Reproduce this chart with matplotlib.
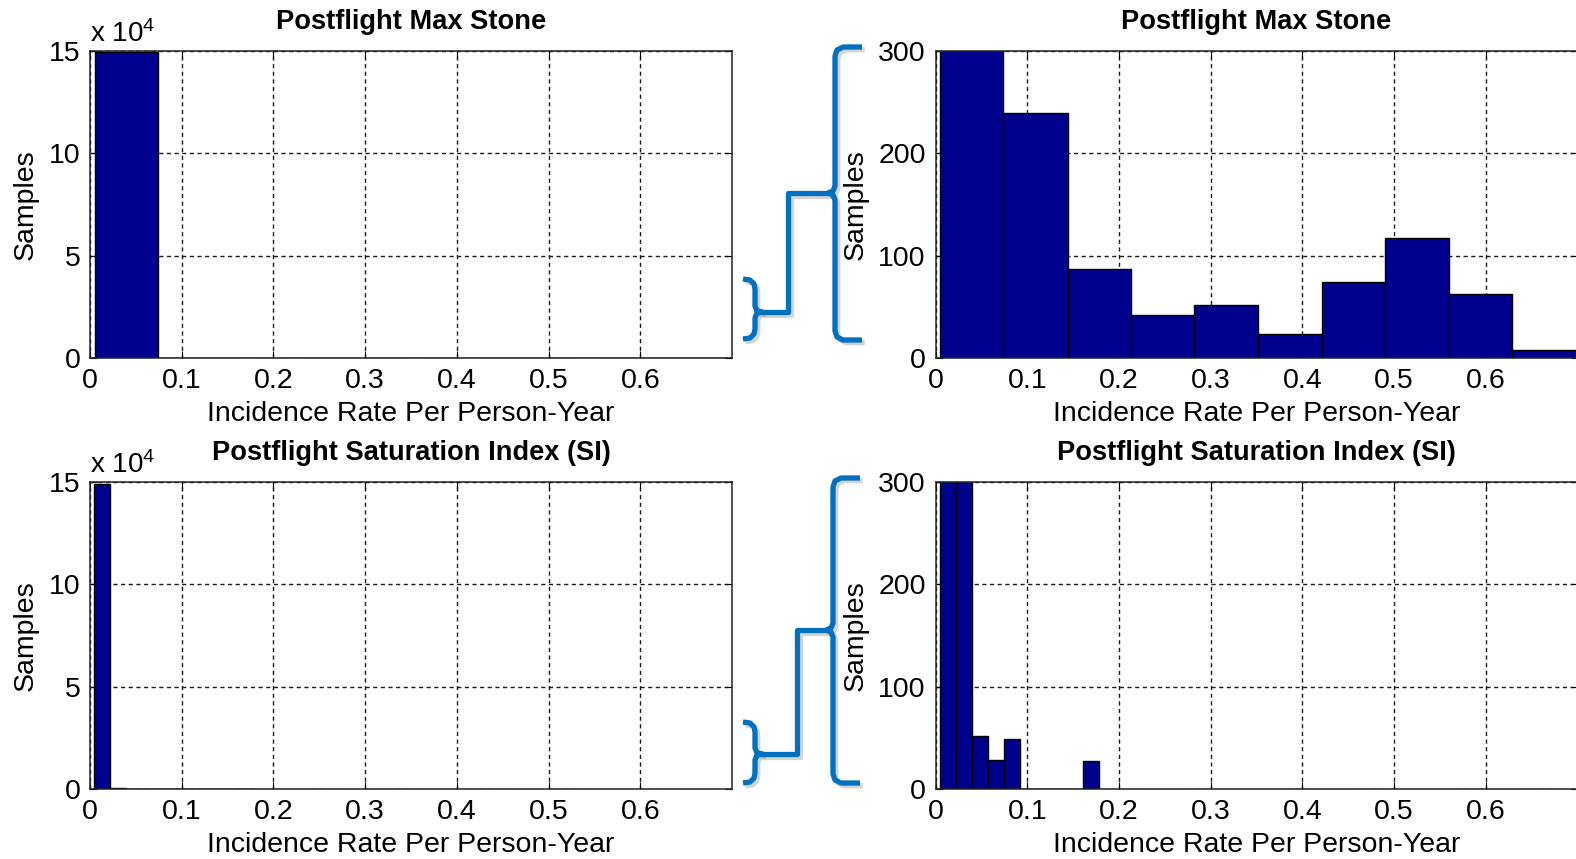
import numpy as np
import matplotlib
matplotlib.use("Agg")
import matplotlib.pyplot as plt
from matplotlib.lines import Line2D
import matplotlib.patheffects as pe

plt.rcParams['font.family'] = ['Liberation Sans', 'DejaVu Sans']
plt.rcParams['mathtext.default'] = 'regular'

# histogram bins (incidence rate per person-year) and sample counts
stone_edges = [0.005, 0.074, 0.144, 0.213, 0.282, 0.352, 0.421, 0.490, 0.560, 0.629, 0.698]
stone_counts = [149500, 239, 87, 42, 52, 23, 74, 117, 63, 8]

si_edges = [0.0047, 0.0221, 0.0395, 0.0569, 0.0743, 0.0917, 0.1091, 0.1265, 0.1439, 0.1613, 0.1787]
si_counts = [149000, 700, 52, 28, 49, 0, 0, 0, 0, 27]

xticks = [0, 0.1, 0.2, 0.3, 0.4, 0.5, 0.6]
xticklabels = ['0', '0.1', '0.2', '0.3', '0.4', '0.5', '0.6']
full_yticks = [0, 5e4, 10e4, 15e4]
full_yticklabels = ['0', '5', '10', '15']
zoom_yticks = [0, 100, 200, 300]

W, H = 1576, 859
fig = plt.figure(figsize=(W / 100, H / 100), dpi=100)

bar_color = '#00008F'
fs = 20.5
title_fs = 19.6


def box(x0, y_top, w=642, h=307):
    return [x0 / W, (H - y_top - h) / H, w / W, h / H]


def hist_panel(rect, edges, counts, title, ylim, yticks, yticklabels=None, sci=False):
    ax = fig.add_axes(rect)
    edges = np.array(edges)
    ax.bar(edges[:-1], counts, width=np.diff(edges), align='edge',
           color=bar_color, edgecolor='black', linewidth=1.0, zorder=3)
    ax.set_xlim(0, 0.7)
    ax.set_ylim(*ylim)
    ax.set_xticks(xticks)
    ax.set_xticklabels(xticklabels)
    ax.set_yticks(yticks)
    if yticklabels is not None:
        ax.set_yticklabels(yticklabels)
    ax.grid(True, color='#1a1a1a', linestyle=(0, (3, 2.5)), linewidth=1.0, zorder=1)
    ax.tick_params(direction='in', length=5, labelsize=fs, pad=7,
                   top=True, right=True, width=0.8)
    for s in ax.spines.values():
        s.set_linewidth(1.1)
        s.set_color('#222222')
        s.set_zorder(4)
    ax.set_title(title, fontsize=title_fs, fontweight='bold', pad=16)
    ax.set_xlabel('Incidence Rate Per Person-Year', fontsize=fs, labelpad=5)
    ax.set_ylabel('Samples', fontsize=fs, labelpad=7)
    if sci:
        ax.text(0.0, 1.01, r'x 10$^{4}$', transform=ax.transAxes,
                fontsize=fs - 0.5, ha='left', va='bottom')
    return ax


hist_panel(box(90, 51), stone_edges, stone_counts, 'Postflight Max Stone',
           (0, 15e4), full_yticks, full_yticklabels, sci=True)
hist_panel(box(935.5, 51), stone_edges, stone_counts, 'Postflight Max Stone',
           (0, 300), zoom_yticks)
hist_panel(box(90, 482), si_edges, si_counts, 'Postflight Saturation Index (SI)',
           (0, 15e4), full_yticks, full_yticklabels, sci=True)
hist_panel(box(935.5, 482), si_edges, si_counts, 'Postflight Saturation Index (SI)',
           (0, 300), zoom_yticks)


# blue braces linking the full-scale view to the zoomed view
def pix_line(pts):
    xs = [p[0] / W for p in pts]
    ys = [(H - p[1]) / H for p in pts]
    ln = Line2D(xs, ys, transform=fig.transFigure, color='#0070C0', lw=3.8,
                solid_joinstyle='round', solid_capstyle='butt',
                path_effects=[pe.SimpleLineShadow(offset=(2, -2), alpha=0.25,
                                                  shadow_color='#555555'),
                              pe.Normal()])
    fig.add_artist(ln)


def small_brace(x, top, bot, mid):
    pix_line([(x - 12, top), (x - 5, top + 1), (x - 1, top + 5), (x, top + 10),
              (x, mid - 6), (x + 2, mid - 1), (x + 8, mid)])
    pix_line([(x + 8, mid), (x + 2, mid + 1), (x, mid + 6),
              (x, bot - 10), (x - 1, bot - 5), (x - 5, bot - 1), (x - 12, bot)])


def big_brace(x, top, bot, mid):
    pix_line([(x + 27, top), (x + 8, top), (x + 2, top + 3), (x, top + 9),
              (x, mid - 7), (x - 2, mid - 2), (x - 7, mid)])
    pix_line([(x - 7, mid), (x - 2, mid + 2), (x, mid + 7),
              (x, bot - 9), (x + 2, bot - 3), (x + 8, bot), (x + 27, bot)])


small_brace(755, 279, 339, 312)
pix_line([(762, 312), (788, 312), (788, 193), (829, 193)])
big_brace(835, 47, 340, 193)

small_brace(755, 722, 783, 754)
pix_line([(762, 754), (797, 754), (797, 630), (827, 630)])
big_brace(833, 478, 783, 630)

fig.savefig('out.png', dpi=100)
